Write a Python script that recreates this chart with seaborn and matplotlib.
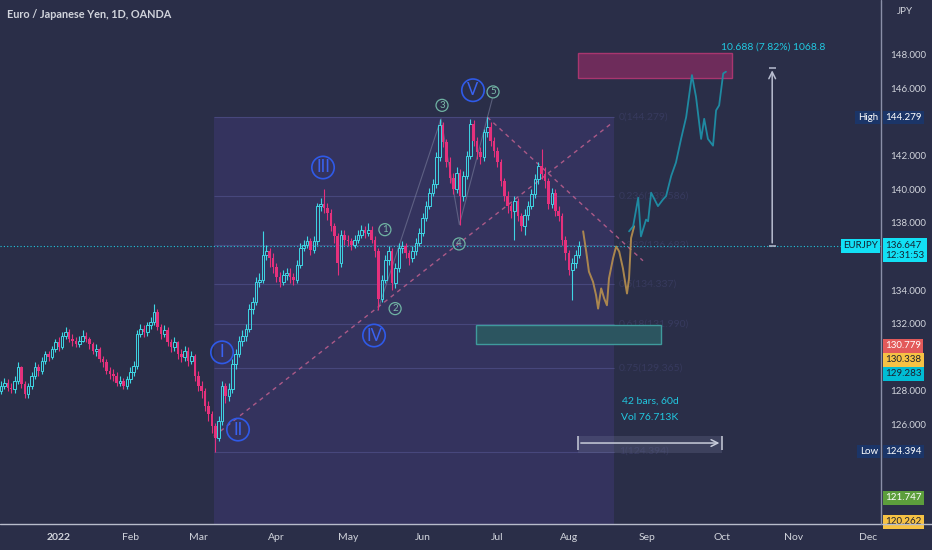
import numpy as np
import pandas as pd
import matplotlib
matplotlib.use('Agg')
import matplotlib.pyplot as plt
import matplotlib.transforms as mtransforms
from matplotlib.patches import Rectangle
from matplotlib.lines import Line2D
import seaborn as sns

# daily EURJPY bars, 2021-12-09 .. 2022-08-04 (open = previous close)
first_open = 128.0
closes = [128.3, 128.5, 128.2, 128.1, 128.6, 129.4, 128.4, 127.8, 128.3, 128.9, 129.4, 129.2, 129.8, 130.2, 130.0, 130.5, 130.9,
          130.6, 131.3, 131.5, 131.1, 131.0, 130.8, 131.0, 131.3, 131.1, 130.8, 130.4, 130.5, 129.9, 129.7, 129.2, 129.0, 128.9, 128.5, 128.6, 128.3, 128.7,
          129.1, 129.5, 131.4, 131.7, 131.5, 131.9, 132.1, 132.7, 131.8, 131.4, 131.6, 130.9, 130.6, 130.9, 130.2, 130.0, 130.4, 129.8, 130.1, 128.9,
          128.3, 128.0, 127.1, 126.6, 125.9, 125.2, 126.2, 128.3, 127.7, 128.1, 129.6, 130.2, 131.0, 131.3, 131.7, 132.9, 133.3, 134.5, 134.6, 136.1, 136.3, 135.9, 135.4,
          134.8, 134.5, 134.9, 135.0, 134.8, 134.6, 135.5, 136.5, 136.7, 136.9, 136.4, 136.9, 139.0, 139.1, 138.9, 138.6, 137.8, 137.2, 135.6, 137.3, 137.0,
          136.9, 136.7, 137.0, 137.3, 137.6, 137.4, 137.6, 137.0, 136.3, 133.5, 134.6, 135.8, 136.3, 134.4, 135.3, 136.5, 136.6, 136.2, 135.9, 136.3, 136.8, 137.4,
          138.3, 139.0, 139.8, 140.3, 141.9, 143.8, 142.8, 141.6, 140.7, 140.0, 141.0, 139.6, 140.8, 142.0, 143.9, 142.9, 142.2, 141.9, 143.4, 143.7, 142.9, 142.3,
          141.6, 140.5, 139.6, 139.0, 138.7, 139.3, 138.4, 137.8, 138.5, 139.0, 139.7, 140.6, 141.4, 140.9, 140.5, 139.1, 139.8, 138.7, 138.4, 137.0, 136.2,
          135.2, 135.6, 136.1, 136.647]
highs = [128.6, 128.8, 128.7, 128.5, 128.9, 129.7, 129.5, 128.6, 128.5, 129.1, 129.7, 129.6, 130.0, 130.4, 130.4, 130.7, 131.1,
         131.2, 131.5, 131.8, 131.7, 131.4, 131.2, 131.3, 131.6, 131.5, 131.2, 130.9, 130.8, 130.6, 130.1, 129.9, 129.4, 129.3, 129.1, 128.9, 128.8, 128.9,
         129.4, 129.8, 131.6, 132.0, 131.9, 132.1, 132.4, 133.2, 132.9, 132.0, 131.9, 131.8, 131.1, 131.2, 131.0, 130.5, 130.7, 130.6, 130.4, 130.2,
         129.2, 128.6, 128.2, 127.4, 126.8, 126.1, 126.5, 128.6, 128.5, 128.5, 129.9, 130.5, 131.3, 131.6, 132.0, 133.2, 133.6, 134.8, 135.0, 137.5, 136.7, 136.5, 136.2,
         135.6, 135.1, 135.2, 135.3, 135.3, 135.0, 135.8, 136.8, 137.0, 137.2, 137.1, 137.2, 139.2, 139.5, 140.0, 139.2, 138.8, 138.0, 137.4, 137.6, 137.6,
         137.3, 137.1, 137.3, 137.6, 137.9, 137.8, 138.0, 137.8, 137.2, 136.5, 134.9, 136.1, 136.6, 136.5, 135.6, 136.8, 136.9, 136.8, 136.4, 136.6, 137.1, 137.7,
         138.6, 139.3, 140.1, 140.6, 142.2, 144.2, 144.0, 143.0, 141.9, 141.0, 141.3, 141.2, 141.1, 142.3, 144.2, 144.1, 143.1, 142.5, 143.6, 144.28, 144.0, 143.1,
         142.5, 141.8, 140.7, 139.9, 139.2, 139.6, 139.5, 138.6, 138.8, 139.3, 140.0, 140.9, 141.6, 142.4, 141.3, 140.7, 140.1, 140.0, 139.0, 138.6, 137.2,
         136.4, 135.9, 136.4, 136.9]
lows = [127.8, 128.1, 128.0, 127.9, 127.9, 128.4, 128.2, 127.6, 127.6, 128.1, 128.7, 128.9, 129.0, 129.6, 129.8, 129.9, 130.3,
        130.4, 130.5, 131.1, 130.9, 130.7, 130.6, 130.6, 130.9, 130.9, 130.5, 130.2, 130.1, 129.7, 129.4, 129.0, 128.7, 128.6, 128.3, 128.3, 128.1, 128.1,
        128.5, 128.9, 129.3, 131.2, 131.2, 131.3, 131.7, 131.9, 131.6, 131.1, 131.2, 130.7, 130.3, 130.4, 129.9, 129.7, 129.8, 129.5, 129.6, 128.6,
        128.0, 127.6, 126.8, 126.2, 125.5, 124.394, 125.0, 126.0, 127.3, 127.4, 127.9, 129.3, 130.0, 130.7, 131.0, 131.5, 132.6, 133.1, 134.2, 134.4, 135.8, 135.4, 135.0,
        134.5, 134.2, 134.3, 134.6, 134.4, 134.3, 134.4, 135.3, 136.3, 136.5, 136.1, 136.2, 136.7, 138.7, 138.6, 138.2, 137.5, 136.8, 134.9, 135.4, 136.7,
        136.6, 136.4, 136.5, 136.8, 137.1, 137.1, 137.2, 136.8, 136.0, 132.8, 133.3, 134.4, 135.5, 134.0, 134.1, 135.1, 136.2, 135.9, 135.5, 135.7, 136.1, 136.6,
        137.2, 138.1, 138.8, 139.6, 140.1, 141.7, 142.5, 141.3, 140.4, 139.7, 139.8, 137.9, 139.3, 140.6, 141.8, 142.6, 141.8, 141.5, 141.7, 143.1, 142.6, 141.9,
        141.3, 140.2, 139.3, 138.6, 138.3, 137.0, 138.1, 137.5, 137.3, 138.2, 138.8, 139.5, 140.3, 140.6, 140.1, 138.8, 138.9, 138.4, 138.1, 136.7, 135.8,
        134.9, 133.4, 135.3, 135.9]

# projected paths (bar index, price)
orange_x = [171.2, 172.1, 172.9, 174.1, 175.0, 175.6, 176.5, 177.4, 178.2, 178.8, 180.0, 180.9, 181.8, 182.9, 184.1, 184.7, 185.3, 186.2]
orange_y = [137.5, 136.3, 135.1, 134.5, 133.7, 132.9, 134.1, 133.5, 133.1, 134.7, 135.9, 136.6, 136.3, 135.3, 133.8, 134.7, 137.1, 137.8]
teal_x = [184.7, 185.9, 187.4, 188.2, 189.7, 190.3, 191.2, 193.2, 194.7, 195.6, 197.1, 198.5, 200.0, 201.5,
          203.2, 204.4, 205.9, 206.8, 207.9, 209.4, 210.3, 211.2, 212.4, 213.2]
teal_y = [137.5, 137.8, 139.5, 137.2, 138.2, 138.1, 139.8, 139.0, 139.4, 139.6, 140.8, 141.6, 143.0, 144.3,
          146.8, 145.5, 143.0, 144.2, 143.0, 142.6, 144.7, 145.0, 146.9, 147.0]

fib_low, fib_high = 124.394, 144.279
fib_levels = [0, 0.236, 0.382, 0.5, 0.618, 0.75, 1]
# ticks hidden behind the High / Low / EURJPY / colour tags are left out
price_ticks = [126, 128, 132, 134, 138, 140, 142, 146, 148]
last_price = 136.647
tag_values = [130.779, 130.338, 129.283, 121.747, 120.262]
tag_colors = ['#e35a5a', '#f6c244', '#00bcd4', '#5c9e3c', '#f6c244']
tag_text_colors = ['white', '#1d2030', '#1d2030', 'white', '#1d2030']
# the axis stacks nearby tags, so they sit a little off their own price
tag_slots = [130.68, 129.85, 129.01, 121.63, 120.2]
big_waves = [('I', 65.0, 130.3), ('II', 69.7, 125.7), ('III', 94.7, 141.3), ('IV', 109.7, 131.3), ('V', 138.8, 145.9)]
small_waves = [('1', 112.9, 137.6), ('2', 115.9, 132.9), ('3', 129.7, 145.0), ('4', 134.7, 136.75), ('5', 144.7, 145.8)]
sub_path_x = [110.8, 129.4, 134.8, 144.5]
sub_path_y = [132.8, 144.2, 137.9, 145.4]

BG = '#2a2e48'
FIB_BG = '#34335e'
UP = '#3fd6e4'
DOWN = '#e5317c'
TXT = '#d1d4dc'
CYAN = '#22c8e0'

sns.set_theme(style='dark', rc={'axes.facecolor': BG, 'figure.facecolor': BG})
plt.rcParams['font.family'] = ['Lato', 'DejaVu Sans']

fig = plt.figure(figsize=(9.32, 5.5), dpi=100)
ax = fig.add_axes([0, 26 / 550, 881 / 932, 524 / 550])
ax.set_xlim(-0.3, 258.8)
ax.set_ylim(120.08, 151.27)

# fibonacci block
fx0, fx1 = 62.6, 180.3
ax.add_patch(Rectangle((fx0, 110), fx1 - fx0, fib_high - 110, fc=FIB_BG, ec='none', zorder=0))
for lv in fib_levels:
    p = fib_high - lv * (fib_high - fib_low)
    ax.hlines(p, fx0, fx1, color='#47477c', lw=0.8, zorder=1)
    ax.text(fx1 + 1.5, p, f'{lv}({p:.3f})', color='#373a5e', fontsize=7.5, va='center', ha='left', zorder=1)

# zones
ax.add_patch(Rectangle((169.7, 146.6), 45.3, 1.5, fc='#6e2c5b', ec='#a8366f', lw=1, zorder=2))
ax.add_patch(Rectangle((139.7, 130.8), 54.4, 1.1, fc='#2c5560', ec='#3f9a9c', lw=1, zorder=2))

# trend lines
ax.plot([62.6, 180.0], [125.3, 144.0], color='#c0608f', lw=1, ls=(0, (3, 3)), alpha=0.85, zorder=2)
ax.plot([143.0, 188.8], [144.3, 135.75], color='#c0608f', lw=1, ls=(0, (3, 3)), alpha=0.85, zorder=2)
ax.plot(sub_path_x, sub_path_y, color='#7a7e9c', lw=0.8, alpha=0.6, zorder=2)

# last price line
ax.axhline(last_price, color=CYAN, lw=0.8, ls=(0, (1, 2)), zorder=2)

# candles
df = pd.DataFrame({'close': closes, 'high': highs, 'low': lows})
df['open'] = [first_open] + closes[:-1]
df['i'] = np.arange(len(df))
up = df[df.close >= df.open]
dn = df[df.close < df.open]
ax.vlines(up.i, up.close, up.high, color=UP, lw=0.8, zorder=3)
ax.vlines(up.i, up.low, up.open, color=UP, lw=0.8, zorder=3)
ax.bar(up.i, up.close - up.open, bottom=up.open, width=0.75, facecolor='none', edgecolor=UP, lw=0.7, zorder=3)
ax.vlines(dn.i, dn.low, dn.high, color=DOWN, lw=0.8, zorder=3)
ax.bar(dn.i, dn.open - dn.close, bottom=dn.close, width=0.75, color=DOWN, lw=0, zorder=3)

# projections
sns.lineplot(x=orange_x, y=orange_y, ax=ax, color='#b8904e', lw=1.4, alpha=0.9, sort=False, estimator=None, zorder=4)
sns.lineplot(x=teal_x, y=teal_y, ax=ax, color='#1f8aa2', lw=1.3, sort=False, estimator=None, zorder=4)

# elliott labels
for t, x, y in big_waves:
    ax.scatter([x], [y], s=260, facecolors='none', edgecolors='#2f5ae8', linewidths=1.2, zorder=5)
    ax.text(x, y, t, color='#3a62f0', fontsize=12, ha='center', va='center', zorder=6)
for t, x, y in small_waves:
    ax.scatter([x], [y], s=75, facecolors='none', edgecolors='#6fb3a3', linewidths=0.9, zorder=5)
    ax.text(x, y, t, color='#7dbbab', fontsize=7, ha='center', va='center', zorder=6)

# measurement tools
ax.annotate('', xy=(226.8, 147.25), xytext=(226.8, last_price),
            arrowprops=dict(arrowstyle='->', color='#b8bdd0', lw=1.1))
ax.hlines([last_price, 147.25], 225.8, 227.8, color='#b8bdd0', lw=1.1)
ax.text(227.0, 148.45, '10.688 (7.82%) 1068.8', color=CYAN, fontsize=7.5, ha='center', va='center')

ax.add_patch(Rectangle((169.7, 124.3), 42.4, 1.0, fc='#6a6f90', alpha=0.3, ec='none'))
ax.annotate('', xy=(212.1, 124.9), xytext=(169.7, 124.9),
            arrowprops=dict(arrowstyle='->', color='#c8ccda', lw=1.1))
ax.vlines([169.7, 212.1], 124.5, 125.3, color='#c8ccda', lw=1.1)
ax.text(190.9, 127.4, '42 bars, 60d', color=CYAN, fontsize=7.5, ha='center', va='center')
ax.text(190.9, 126.4, 'Vol 76.713K', color=CYAN, fontsize=7.5, ha='center', va='center')

# axes styling
for s in ax.spines.values():
    s.set_visible(False)
ax.set_xticks([])
ax.yaxis.tick_right()
ax.set_yticks(price_ticks)
ax.set_yticklabels([f'{t:.3f}' for t in price_ticks])
ax.tick_params(axis='y', length=0, pad=6.5, labelcolor=TXT, labelsize=7)
ax.grid(False)

# month labels
dates = pd.bdate_range('2021-12-09', '2022-12-30')
trans_x = mtransforms.blended_transform_factory(ax.transData, ax.transAxes)
for k in range(1, len(dates)):
    if dates[k].month != dates[k - 1].month:
        lab = '2022' if dates[k].month == 1 else dates[k].strftime('%b')
        ax.text(k, -13 / 524, lab, transform=trans_x, color=TXT, fontsize=7.5, ha='center', va='center',
                fontweight='bold' if lab == '2022' else 'normal', clip_on=False)

fig.add_artist(Line2D([0, 1], [26 / 550, 26 / 550], color='#b8bccb', lw=1))
fig.add_artist(Line2D([881 / 932, 881 / 932], [26 / 550, 1], color='#8a8fa8', lw=1))

# price side tags
trans_y = mtransforms.blended_transform_factory(ax.transAxes, ax.transData)
tag_box = 'square,pad=0.25'
for val, slot, bg, fg in zip(tag_values, tag_slots, tag_colors, tag_text_colors):
    ax.text(1 + 4 / 881, slot, f'{val:.3f}', transform=trans_y, color=fg, fontsize=7, ha='left', va='center',
            bbox=dict(boxstyle=tag_box, fc=bg, ec='none'), clip_on=False, zorder=7)
for p, name in [(fib_high, 'High'), (fib_low, 'Low')]:
    ax.text(1 + 4 / 881, p, f'{p:.3f}', transform=trans_y, color='white', fontsize=7, ha='left', va='center',
            bbox=dict(boxstyle=tag_box, fc='#1b3568', ec='none'), clip_on=False, zorder=7)
    ax.text(1 - 3 / 881, p, name, transform=trans_y, color='white', fontsize=7, ha='right', va='center',
            bbox=dict(boxstyle=tag_box, fc='#1b3568', ec='none'), clip_on=False, zorder=7)
ax.text(1 - 3 / 881, last_price, 'EURJPY', transform=trans_y, color='#152030', fontsize=7, ha='right', va='center',
        bbox=dict(boxstyle=tag_box, fc='#12e0f5', ec='none'), clip_on=False, zorder=7)
ax.text(1 + 4 / 881, last_price + 0.3, '136.647\n12:31:53', transform=trans_y, color='#152030', fontsize=7,
        ha='left', va='top', linespacing=1.15,
        bbox=dict(boxstyle=tag_box, fc='#12e0f5', ec='none'), clip_on=False, zorder=7)

fig.text(897 / 932, 1 - 12 / 550, 'JPY', color=TXT, fontsize=7, ha='left', va='center')
fig.text(7 / 932, 1 - 15 / 550, 'Euro / Japanese Yen, 1D, OANDA', color=TXT, fontsize=7.8,
         fontweight='bold', ha='left', va='center')

fig.savefig('out.png', dpi=100, facecolor=BG)
